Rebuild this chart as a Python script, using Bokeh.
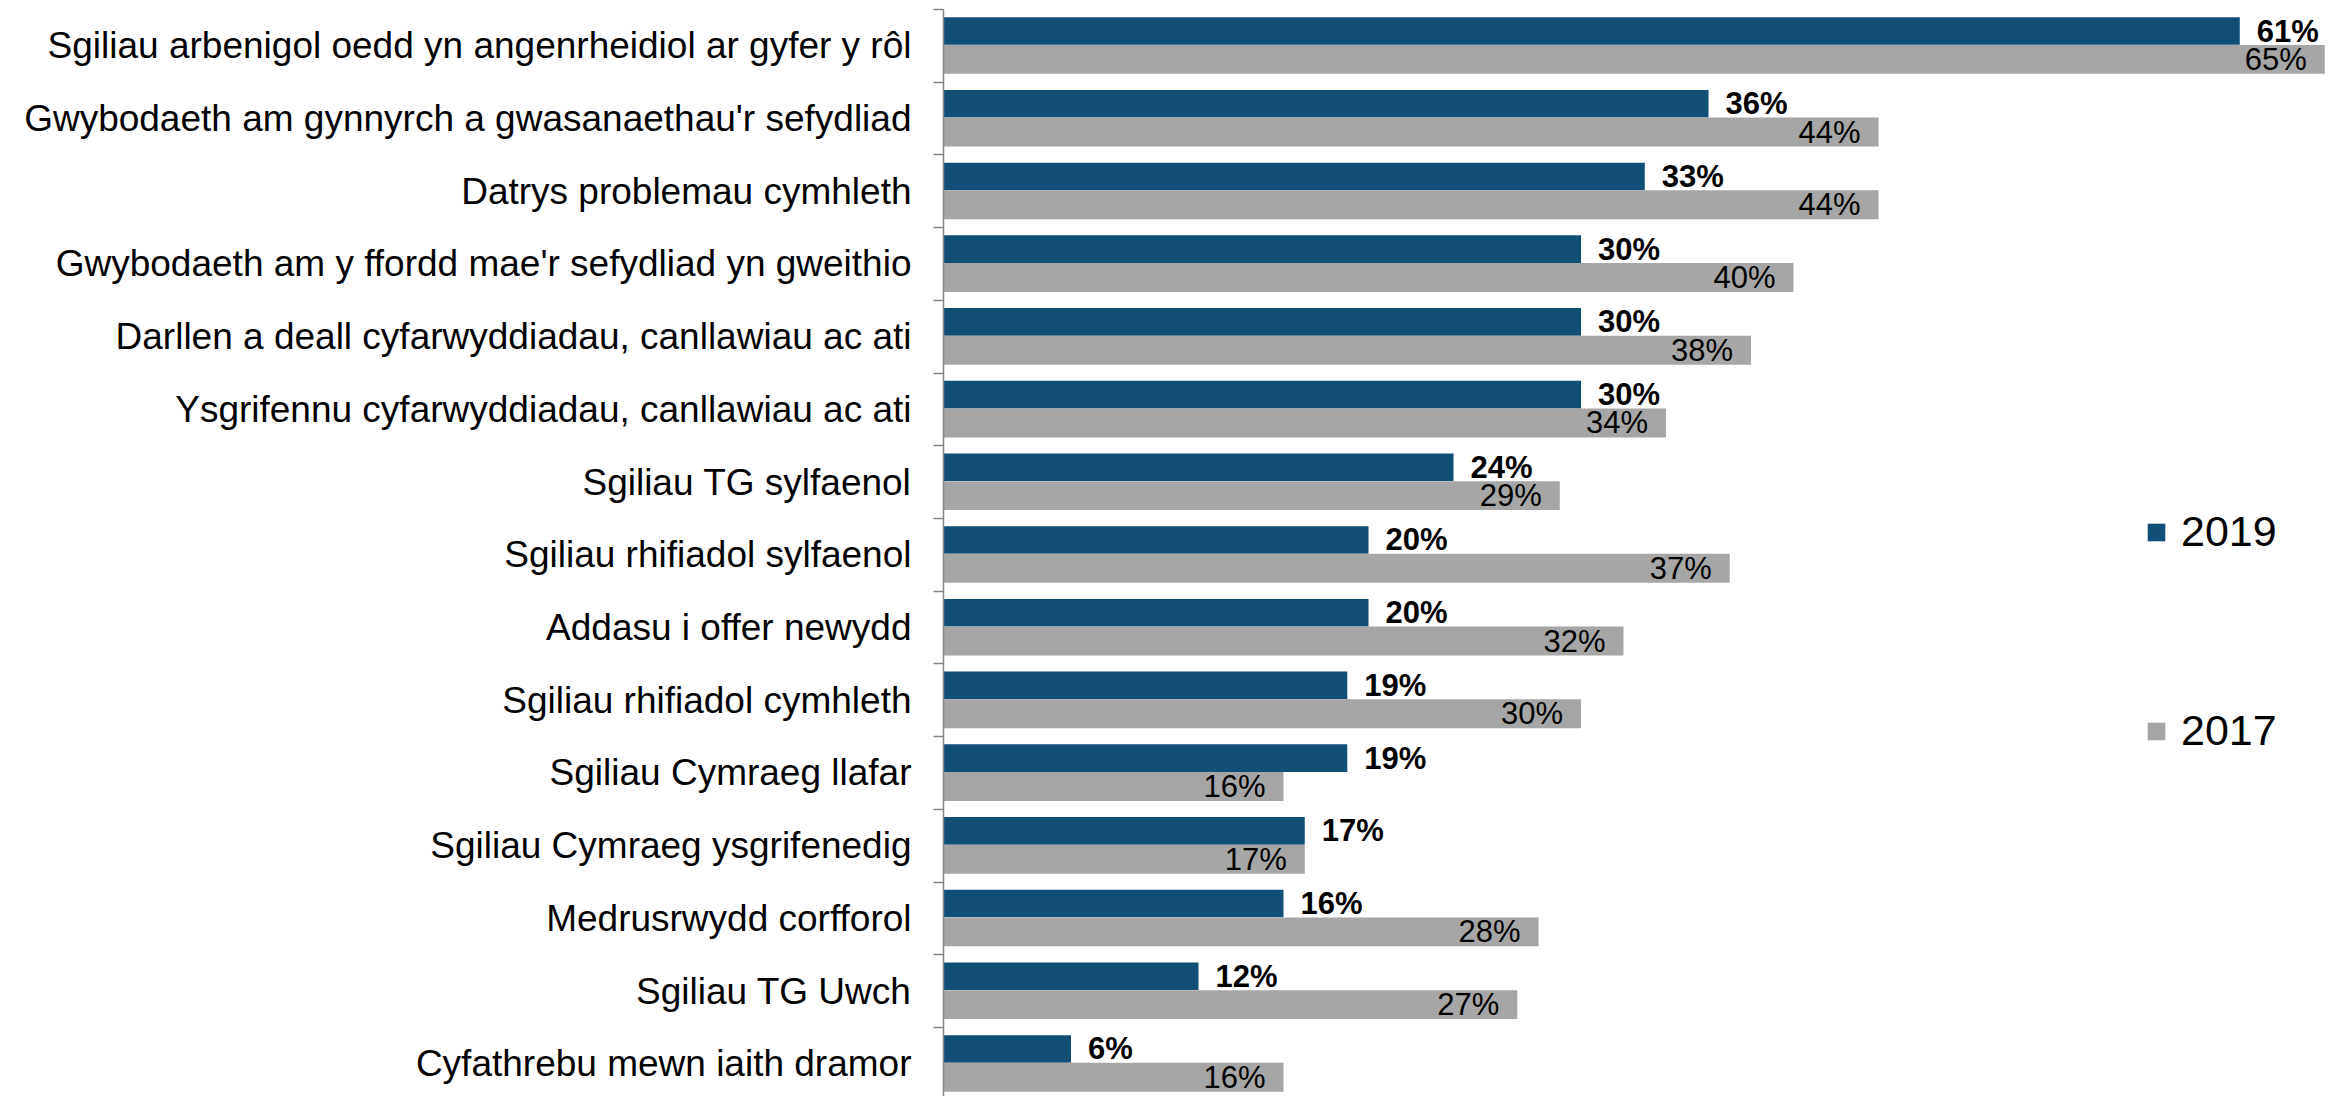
from bokeh.plotting import figure
from bokeh.models import ColumnDataSource, Range1d, FixedTicker, Legend, LegendItem
from bokeh.transform import dodge
from bokeh.core.properties import value
from bokeh.embed import file_html
from bokeh.resources import INLINE

categories = [
    "Sgiliau arbenigol oedd yn angenrheidiol ar gyfer y rôl",
    "Gwybodaeth am gynnyrch a gwasanaethau'r sefydliad",
    "Datrys problemau cymhleth",
    "Gwybodaeth am y ffordd mae'r sefydliad yn gweithio",
    "Darllen a deall cyfarwyddiadau, canllawiau ac ati",
    "Ysgrifennu cyfarwyddiadau, canllawiau ac ati",
    "Sgiliau TG sylfaenol",
    "Sgiliau rhifiadol sylfaenol",
    "Addasu i offer newydd",
    "Sgiliau rhifiadol cymhleth",
    "Sgiliau Cymraeg llafar",
    "Sgiliau Cymraeg ysgrifenedig",
    "Medrusrwydd corfforol",
    "Sgiliau TG Uwch",
    "Cyfathrebu mewn iaith dramor",
]
values_2019 = [61, 36, 33, 30, 30, 30, 24, 20, 20, 19, 19, 17, 16, 12, 6]
values_2017 = [65, 44, 44, 40, 38, 34, 29, 37, 32, 30, 16, 17, 28, 27, 16]
series_names = ["2019", "2017"]

BLUE = "#114F77"
GREY = "#A6A6A6"
AXIS = "#868686"
FONT = "Liberation Sans"

pos = [i + 0.5 for i in range(len(categories))]
src = ColumnDataSource(dict(
    cat=categories, pos=pos,
    v19=values_2019, v17=values_2017,
    l19=[f"{v}%" for v in values_2019],
    l17=[f"{v}%" for v in values_2017],
))

p = figure(width=2343, height=1096,
           x_range=Range1d(0, 65.88), y_range=Range1d(14.95, 0),
           x_axis_location=None,
           output_backend="svg", toolbar_location=None,
           min_border_left=943, min_border_right=0,
           min_border_top=9, min_border_bottom=0)
p.outline_line_color = None
p.xgrid.visible = False
p.ygrid.visible = False

r19 = p.hbar(y=dodge("pos", -0.204, range=p.y_range), left=0, right="v19",
             height=0.38, fill_color=BLUE, line_color=None, source=src)
r17 = p.hbar(y=dodge("pos", 0.186, range=p.y_range), left=0, right="v17",
             height=0.398, fill_color=GREY, line_color=None, source=src)

p.text(x="v19", y=dodge("pos", -0.204, range=p.y_range), text="l19", source=src,
       x_offset=17, text_align="left", text_baseline="middle",
       text_font=value(FONT), text_font_style="bold", text_font_size="31px",
       text_color="black")
p.text(x="v17", y=dodge("pos", 0.186, range=p.y_range), text="l17", source=src,
       x_offset=-18, text_align="right", text_baseline="middle",
       text_font=value(FONT), text_font_size="31px", text_color="black")

ax = p.yaxis[0]
ax.ticker = FixedTicker(ticks=pos, minor_ticks=list(range(len(categories) + 1)))
ax.major_label_overrides = {pp: c for pp, c in zip(pos, categories)}
ax.major_tick_out = 0
ax.major_tick_in = 0
ax.minor_tick_out = 10
ax.minor_tick_in = 0
ax.minor_tick_line_color = AXIS
ax.minor_tick_line_width = 1.5
ax.axis_line_color = AXIS
ax.axis_line_width = 1.5
ax.major_label_standoff = 22
ax.major_label_text_font = FONT
ax.major_label_text_font_size = "37px"
ax.major_label_text_color = "black"

legend = Legend(items=[LegendItem(label=series_names[0], renderers=[r19]),
                       LegendItem(label=series_names[1], renderers=[r17])],
                location=(1202, 341), orientation="vertical",
                glyph_width=22, glyph_height=22, label_standoff=14,
                label_text_font=FONT, label_text_font_size="43px",
                label_text_color="black",
                spacing=150, padding=0, margin=0,
                border_line_color=None, background_fill_alpha=0)
p.add_layout(legend)

open("out.html", "w").write(file_html(p, INLINE))
